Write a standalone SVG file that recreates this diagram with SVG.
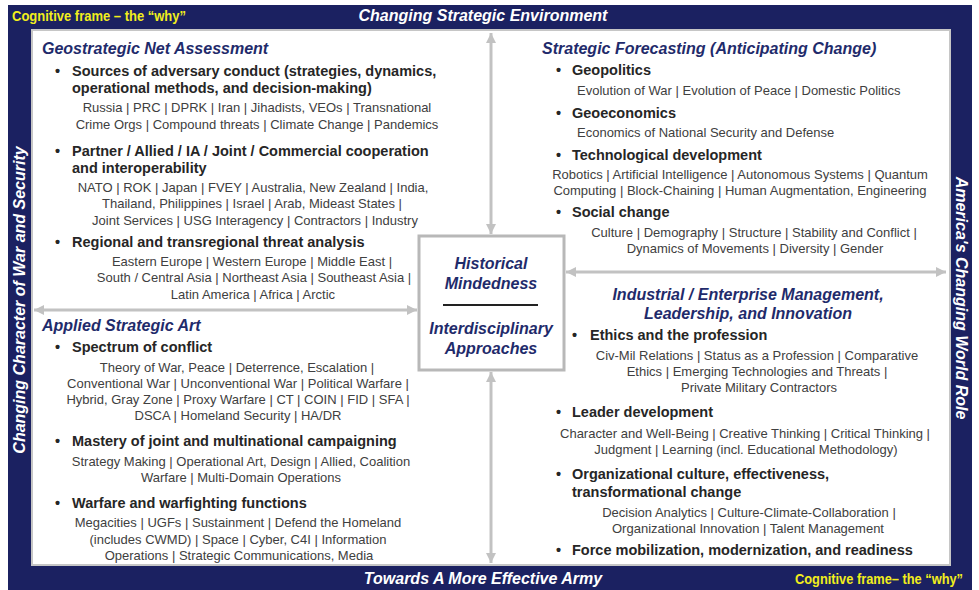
<svg xmlns="http://www.w3.org/2000/svg" width="979" height="590" viewBox="0 0 979 590">
<style>
text{font-family:"Liberation Sans",Arial,sans-serif}
.band{font-size:16px;font-weight:bold;font-style:italic;fill:#ffffff}
.yel{font-size:14px;font-weight:bold;fill:#f2ee1c}
.h{font-size:16px;font-weight:bold;font-style:italic;fill:#1f2b6b}
.b{font-size:14.5px;font-weight:bold;fill:#262626}
.d{font-size:13px;fill:#404040}
.c{text-anchor:middle}
.conn{stroke:#c2c2c2;stroke-width:3;fill:none}
</style>
<defs>
<marker id="ah" markerUnits="userSpaceOnUse" markerWidth="11" markerHeight="10" refX="10" refY="5" orient="auto-start-reverse">
<path d="M0,0 L10,5 L0,10 z" fill="#c2c2c2"/>
</marker>
</defs>
<rect x="0" y="0" width="979" height="590" fill="#ffffff"/>
<g id="frame">
<rect x="8" y="5" width="964" height="585" fill="#1b2161"/>
<rect x="32" y="30" width="918" height="535" fill="#ffffff" stroke="#c6c6c6" stroke-width="2"/>
<text class="yel" x="12" y="21" textLength="174" lengthAdjust="spacingAndGlyphs">Cognitive frame – the “why”</text>
<text class="band c" x="483" y="21">Changing Strategic Environment</text>
<text class="band c" x="483" y="584">Towards A More Effective Army</text>
<text class="yel" x="795" y="584" textLength="168" lengthAdjust="spacingAndGlyphs">Cognitive frame– the “why”</text>
<text class="band c" transform="translate(25,300) rotate(-90)">Changing Character of War and Security</text>
<text class="band c" transform="translate(956,298) rotate(90)">America's Changing World Role</text>
</g>
<g id="connectors">
<line class="conn" x1="491" y1="33" x2="491" y2="234" marker-start="url(#ah)" marker-end="url(#ah)"/>
<line class="conn" x1="491" y1="372" x2="491" y2="563" marker-start="url(#ah)" marker-end="url(#ah)"/>
<line class="conn" x1="34" y1="310" x2="417" y2="310" marker-start="url(#ah)" marker-end="url(#ah)"/>
<line class="conn" x1="566" y1="272" x2="946" y2="272" marker-start="url(#ah)" marker-end="url(#ah)"/>
</g>
<g id="geostrategic">
<text class="h" x="42" y="54">Geostrategic Net Assessment</text>
<text class="b" x="55" y="76">•</text>
<text class="b" x="72" y="76">Sources of adversary conduct (strategies, dynamics,</text>
<text class="b" x="72" y="93">operational methods, and decision-making)</text>
<text class="d c" x="257" y="112">Russia | PRC | DPRK | Iran | Jihadists, VEOs | Transnational</text>
<text class="d c" x="257" y="129">Crime Orgs | Compound threats | Climate Change | Pandemics</text>
<text class="b" x="55" y="156">•</text>
<text class="b" x="72" y="156">Partner / Allied / IA / Joint / Commercial cooperation</text>
<text class="b" x="72" y="173">and interoperability</text>
<text class="d c" x="253" y="192">NATO | ROK | Japan | FVEY | Australia, New Zealand | India,</text>
<text class="d c" x="252" y="208">Thailand, Philippines | Israel | Arab, Mideast States |</text>
<text class="d c" x="255" y="225">Joint Services | USG Interagency | Contractors | Industry</text>
<text class="b" x="55" y="247">•</text>
<text class="b" x="72" y="247">Regional and transregional threat analysis</text>
<text class="d c" x="252" y="266">Eastern Europe | Western Europe | Middle East |</text>
<text class="d c" x="254" y="282">South / Central Asia | Northeast Asia | Southeast Asia |</text>
<text class="d c" x="253" y="299">Latin America | Africa | Arctic</text>
</g>
<g id="applied">
<text class="h" x="42" y="331">Applied Strategic Art</text>
<text class="b" x="55" y="352">•</text>
<text class="b" x="72" y="352">Spectrum of conflict</text>
<text class="d c" x="237" y="372">Theory of War, Peace | Deterrence, Escalation |</text>
<text class="d c" x="238" y="388">Conventional War | Unconventional War | Political Warfare |</text>
<text class="d c" x="238" y="404">Hybrid, Gray Zone | Proxy Warfare | CT | COIN | FID | SFA |</text>
<text class="d c" x="238" y="420">DSCA | Homeland Security | HA/DR</text>
<text class="b" x="55" y="446">•</text>
<text class="b" x="72" y="446">Mastery of joint and multinational campaigning</text>
<text class="d c" x="241" y="466">Strategy Making | Operational Art, Design | Allied, Coalition</text>
<text class="d c" x="241" y="482">Warfare | Multi-Domain Operations</text>
<text class="b" x="55" y="508">•</text>
<text class="b" x="72" y="508">Warfare and warfighting functions</text>
<text class="d c" x="238" y="527">Megacities | UGFs | Sustainment | Defend the Homeland</text>
<text class="d c" x="238" y="544">(includes CWMD) | Space | Cyber, C4I | Information</text>
<text class="d c" x="239" y="560">Operations | Strategic Communications, Media</text>
</g>
<g id="forecasting">
<text class="h" x="542" y="54">Strategic Forecasting (Anticipating Change)</text>
<text class="b" x="556" y="75">•</text>
<text class="b" x="572" y="75">Geopolitics</text>
<text class="d" x="577" y="95">Evolution of War | Evolution of Peace | Domestic Politics</text>
<text class="b" x="556" y="118">•</text>
<text class="b" x="572" y="118">Geoeconomics</text>
<text class="d" x="577" y="137">Economics of National Security and Defense</text>
<text class="b" x="556" y="160">•</text>
<text class="b" x="572" y="160">Technological development</text>
<text class="d c" x="740" y="179">Robotics | Artificial Intelligence | Autonomous Systems | Quantum</text>
<text class="d c" x="740" y="195">Computing | Block-Chaining | Human Augmentation, Engineering</text>
<text class="b" x="556" y="217">•</text>
<text class="b" x="572" y="217">Social change</text>
<text class="d c" x="754" y="237">Culture | Demography | Structure | Stability and Conflict |</text>
<text class="d c" x="755" y="253">Dynamics of Movements | Diversity | Gender</text>
</g>
<g id="industrial">
<text class="h c" x="748" y="300">Industrial / Enterprise Management,</text>
<text class="h c" x="748" y="319">Leadership, and Innovation</text>
<text class="b" x="572" y="340">•</text>
<text class="b" x="590" y="340">Ethics and the profession</text>
<text class="d c" x="757" y="360">Civ-Mil Relations | Status as a Profession | Comparative</text>
<text class="d c" x="757" y="376">Ethics | Emerging Technologies and Threats |</text>
<text class="d c" x="759" y="392">Private Military Contractors</text>
<text class="b" x="556" y="417">•</text>
<text class="b" x="572" y="417">Leader development</text>
<text class="d c" x="745" y="438">Character and Well-Being | Creative Thinking | Critical Thinking |</text>
<text class="d c" x="746" y="454">Judgment | Learning (incl. Educational Methodology)</text>
<text class="b" x="556" y="479">•</text>
<text class="b" x="572" y="479">Organizational culture, effectiveness,</text>
<text class="b" x="572" y="497">transformational change</text>
<text class="d c" x="749" y="517">Decision Analytics | Culture-Climate-Collaboration |</text>
<text class="d c" x="748" y="533">Organizational Innovation | Talent Management</text>
<text class="b" x="556" y="555">•</text>
<text class="b" x="572" y="555">Force mobilization, modernization, and readiness</text>
</g>
<g id="center">
<rect x="419" y="236" width="145" height="134" fill="#ffffff" stroke="#b8b8b8" stroke-width="3"/>
<text class="h c" x="491" y="269">Historical</text>
<text class="h c" x="491" y="289">Mindedness</text>
<line x1="443" y1="305" x2="538" y2="305" stroke="#222222" stroke-width="2"/>
<text class="h c" x="491" y="334">Interdisciplinary</text>
<text class="h c" x="491" y="354">Approaches</text>
</g>
</svg>
